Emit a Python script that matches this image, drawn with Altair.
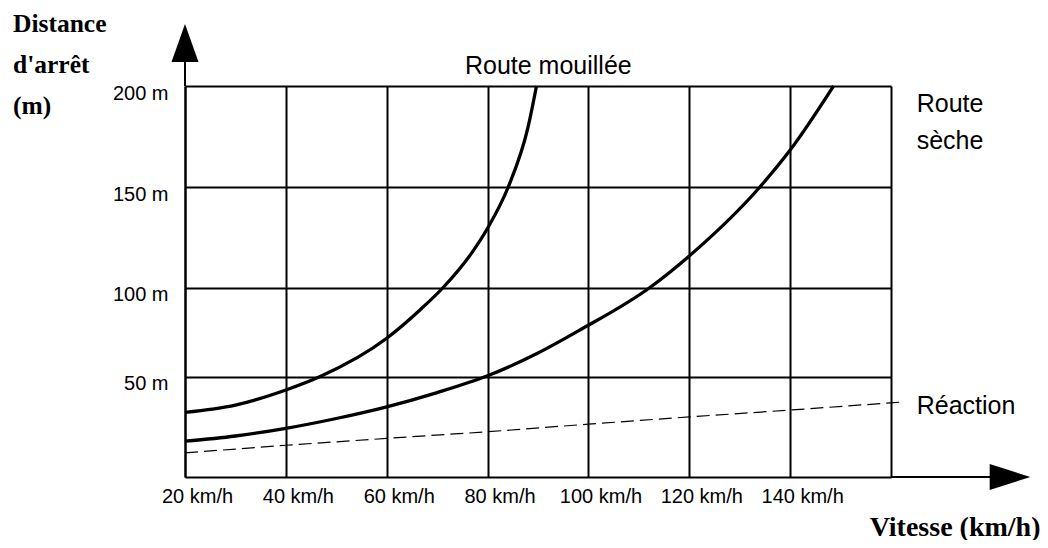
import altair as alt
import pandas as pd

# ---- data ----
speed_wet = [20, 30, 40, 46.8, 60, 66.6, 71.2, 76.8, 80, 84.1, 88.05, 89.7]
dist_wet = [32.2, 35.8, 43.3, 50, 71.5, 87.4, 100, 117, 129.5, 150, 179.9, 200]

speed_dry = [20, 30, 40, 50, 60, 70, 80, 90, 98.3, 112.2, 120, 134.0, 140, 148.6]
dist_dry = [17.8, 20.4, 24.2, 29.1, 34.9, 42.0, 50.4, 63.2, 76.1, 100, 115.7, 150, 168.3, 200]

speed_react = [20, 40, 60, 80, 100, 120, 140, 160, 162.3]
dist_react = [12, 15.8, 19.2, 22.5, 26.3, 29.9, 33.3, 36.9, 37.3]

x_ticks = [20, 40, 60, 80, 100, 120, 140, 160]
y_ticks = [50, 100, 150, 200]
y_title = ["Distance", "d'arrêt", "(m)"]
x_title = "Vitesse (km/h)"

labels_text = ["Route mouillée", "Route", "sèche", "Réaction"]
labels_x = [92.05, 165.1, 165.1, 165.1]
labels_y = [205.9, 187.3, 168.8, 31.3]
labels_align = ["center", "left", "left", "left"]

SANS = "Liberation Sans"
SERIF = "Liberation Serif"

wet = pd.DataFrame({"v": speed_wet, "d": dist_wet})
dry = pd.DataFrame({"v": speed_dry, "d": dist_dry})
react = pd.DataFrame({"v": speed_react, "d": dist_react})

x_scale = alt.Scale(domain=[20, 160], nice=False, zero=False)
y_scale = alt.Scale(domain=[0, 50, 100, 150, 200], range=[391, 290.5, 201.5, 101, 0],
                    nice=False, zero=False)

x_axis = alt.Axis(
    values=x_ticks, grid=True, gridColor="black", gridWidth=2, gridOpacity=1,
    domain=True, domainColor="black", domainWidth=2, ticks=False,
    labelExpr="datum.value <= 140 ? datum.value + ' km/h' : ''",
    labelFont=SANS, labelFontSize=20, labelColor="black", labelOffset=12, labelPadding=9,
    labelFlush=False, labelOverlap=False, labelBound=False,
    title=x_title, titleFont=SERIF, titleFontSize=28, titleFontWeight="bold",
    titleColor="black", titleX=855, titleY=58, titleAlign="right",
    titleBaseline="alphabetic", titleAngle=0,
)
y_axis = alt.Axis(
    values=y_ticks, grid=True, gridColor="black", gridWidth=2, gridOpacity=1,
    domain=True, domainColor="black", domainWidth=2, ticks=False,
    labelExpr="datum.value + ' m'",
    labelFont=SANS, labelFontSize=20, labelColor="black", labelOffset=7, labelPadding=17,
    labelOverlap=False, labelBound=False, labelFlush=False,
    title=y_title, titleFont=SERIF, titleFontSize=25.5, titleFontWeight="bold",
    titleColor="black", titleAngle=0, titleX=-172.5, titleY=-55, titleAlign="left",
    titleBaseline="alphabetic", titleLineHeight=41,
)

X = alt.X("v:Q", scale=x_scale, axis=x_axis)
Y = alt.Y("d:Q", scale=y_scale, axis=y_axis)

dry_line = alt.Chart(dry).mark_line(color="black", strokeWidth=3.3, interpolate="monotone").encode(x=X, y=Y)
wet_line = alt.Chart(wet).mark_line(color="black", strokeWidth=3.3, interpolate="monotone").encode(
    x="v:Q", y="d:Q")
react_line = alt.Chart(react).mark_line(color="black", strokeWidth=1.2, strokeDash=[13, 6]).encode(
    x="v:Q", y="d:Q")

# axis extensions and arrows
x_ext = pd.DataFrame({"v": [160], "v2": [183], "d": [0]})
y_ext = pd.DataFrame({"v": [20], "d": [200], "d2": [221]})
x_ext_rule = alt.Chart(x_ext).mark_rule(color="black", strokeWidth=2).encode(x="v:Q", x2="v2:Q", y="d:Q")
y_ext_rule = alt.Chart(y_ext).mark_rule(color="black", strokeWidth=2).encode(x="v:Q", y="d:Q", y2="d2:Q")

arrow_up = alt.Chart(pd.DataFrame({"v": [20], "d": [221.3]})).mark_point(
    shape="M0,-1L0.71,1L-0.71,1Z", size=1444, filled=True, color="black", opacity=1, strokeWidth=0
).encode(x="v:Q", y="d:Q")
arrow_right = alt.Chart(pd.DataFrame({"v": [183.6], "d": [0]})).mark_point(
    shape="M1,0L-1,0.64L-1,-0.64Z", size=1656, filled=True, color="black", opacity=1, strokeWidth=0
).encode(x="v:Q", y="d:Q")

labels = pd.DataFrame({"t": labels_text, "v": labels_x, "d": labels_y, "a": labels_align})
text_center = alt.Chart(labels[labels.a == "center"]).mark_text(
    font=SANS, fontSize=25, color="black", align="center", baseline="alphabetic"
).encode(x="v:Q", y="d:Q", text="t:N")
text_left = alt.Chart(labels[labels.a == "left"]).mark_text(
    font=SANS, fontSize=25, color="black", align="left", baseline="alphabetic"
).encode(x="v:Q", y="d:Q", text="t:N")

chart = alt.layer(
    dry_line, wet_line, react_line, x_ext_rule, y_ext_rule, arrow_up, arrow_right,
    text_center, text_left
).properties(
    width=706, height=391, autosize="none",
    padding={"left": 177, "top": 78, "right": 149, "bottom": 63},
    background="white",
).configure_view(stroke=None)

chart.save("out.html", embed_options={"renderer": "svg", "actions": False})
